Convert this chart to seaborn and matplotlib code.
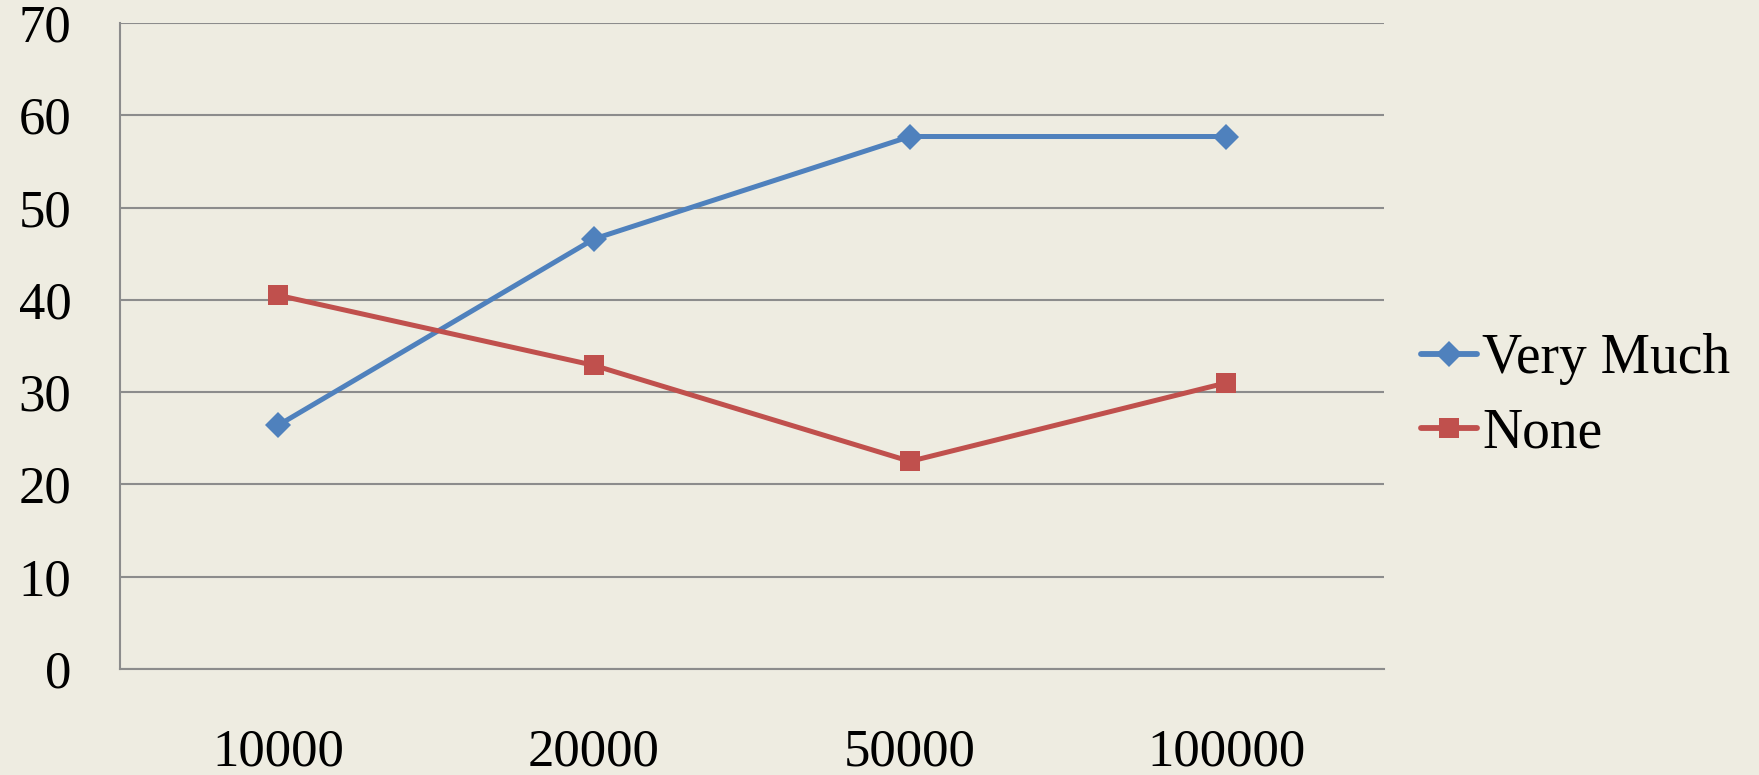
import matplotlib
matplotlib.use("Agg")
import matplotlib.pyplot as plt
import seaborn as sns
import pandas as pd

# Survey results by amount
amounts = ["10000", "20000", "50000", "100000"]
very_much = [26.4, 46.6, 57.7, 57.7]
none = [40.5, 32.9, 22.5, 31.0]
series_names = ["Very Much", "None"]
y_ticks = [0, 10, 20, 30, 40, 50, 60, 70]

df = pd.DataFrame({
    "amount": amounts * 2,
    "value": very_much + none,
    "series": [series_names[0]] * len(amounts) + [series_names[1]] * len(amounts),
})

bg = "#EEECE1"
grid_color = "#8C8C8C"
palette = {"Very Much": "#4F81BD", "None": "#C0504D"}
markers = {"Very Much": "D", "None": "s"}

sns.set_theme(style="white")
plt.rcParams["font.family"] = ["Liberation Serif", "DejaVu Serif"]

fig = plt.figure(figsize=(17.59, 7.75), dpi=100, facecolor=bg)
ax = fig.add_axes([120 / 1759, 1 - 669 / 775, (1384 - 120) / 1759, (669 - 23) / 775])
ax.set_facecolor(bg)

sns.lineplot(
    data=df, x="amount", y="value", hue="series", style="series",
    palette=palette, markers=markers, dashes=False,
    linewidth=3.6, markersize=13, markeredgewidth=0,
    sort=False, ax=ax,
)
# square markers slightly larger than diamonds
for line in ax.lines:
    if line.get_marker() == "s":
        line.set_markersize(14.5)

ax.set_xlim(-0.5, len(amounts) - 0.5)
ax.set_ylim(0, 70)
ax.set_yticks(y_ticks)
ax.set_yticklabels([str(t) for t in y_ticks])
ax.yaxis.grid(True, color=grid_color, linewidth=1.5)
ax.xaxis.grid(False)
ax.set_axisbelow(True)
ax.set_xlabel("")
ax.set_ylabel("")

for side in ["top", "right"]:
    ax.spines[side].set_visible(False)
for side in ["left", "bottom"]:
    ax.spines[side].set_color(grid_color)
    ax.spines[side].set_linewidth(1.5)

ax.tick_params(axis="y", length=0, pad=35, labelsize=38, labelcolor="black")
ax.tick_params(axis="x", length=0, pad=60, labelsize=38, labelcolor="black")
for lbl in ax.get_xticklabels():
    lbl.set_verticalalignment("center")
for lbl in ax.get_yticklabels():
    lbl.set_y(lbl.get_position()[1])

handles, labels = ax.get_legend_handles_labels()
for h in handles:
    h.set_linewidth(4.2)
leg = ax.legend(
    handles, labels, loc="upper left",
    bbox_to_anchor=(1421 / 1759, 1 - 333 / 775), bbox_transform=fig.transFigure,
    frameon=False, fontsize=40, handlelength=1.0, handletextpad=0.1,
    labelspacing=0.4, borderpad=0, borderaxespad=0,
)
for t in leg.get_texts():
    t.set_color("black")

fig.savefig("out.png", dpi=100, facecolor=bg)
